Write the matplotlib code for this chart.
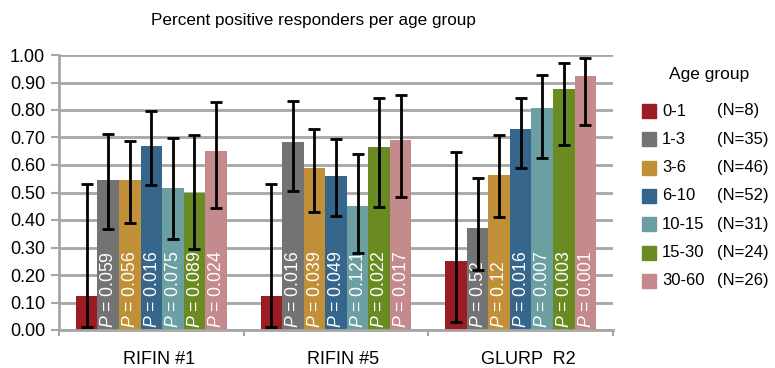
import numpy as np
import matplotlib.pyplot as plt
from matplotlib.patches import Rectangle

plt.rcParams['font.family'] = ['Liberation Sans', 'DejaVu Sans']
plt.rcParams['mathtext.fontset'] = 'custom'
plt.rcParams['mathtext.it'] = 'Liberation Sans:italic'
plt.rcParams['mathtext.rm'] = 'Liberation Sans'

# data
antigens = ["RIFIN #1", "RIFIN #5", "GLURP  R2"]
age_groups = ["0-1", "1-3", "3-6", "6-10", "10-15", "15-30", "30-60"]
group_n = [8, 35, 46, 52, 31, 24, 26]
colors = ["#9B1C22", "#737373", "#C18F37", "#36668C", "#6C9FA1", "#6A8A22", "#C48A8C"]

rifin1 = [0.125, 0.545, 0.545, 0.67, 0.515, 0.50, 0.65]
rifin1_lo = [0.01, 0.366, 0.39, 0.527, 0.332, 0.293, 0.442]
rifin1_hi = [0.53, 0.713, 0.688, 0.796, 0.697, 0.708, 0.83]
rifin1_p = [None, "0.059", "0.056", "0.016", "0.075", "0.089", "0.024"]

rifin5 = [0.125, 0.685, 0.588, 0.56, 0.451, 0.665, 0.69]
rifin5_lo = [0.01, 0.507, 0.43, 0.416, 0.279, 0.447, 0.485]
rifin5_hi = [0.53, 0.833, 0.73, 0.696, 0.64, 0.845, 0.855]
rifin5_p = [None, "0.016", "0.039", "0.049", "0.121", "0.022", "0.017"]

glurp = [0.251, 0.372, 0.562, 0.73, 0.807, 0.875, 0.924]
glurp_lo = [0.03, 0.22, 0.41, 0.59, 0.624, 0.673, 0.745]
glurp_hi = [0.648, 0.552, 0.708, 0.845, 0.928, 0.972, 0.99]
glurp_p = [None, "0.52", "0.12", "0.016", "0.007", "0.003", "0.001"]

values = [rifin1, rifin5, glurp]
lows = [rifin1_lo, rifin5_lo, glurp_lo]
highs = [rifin1_hi, rifin5_hi, glurp_hi]
pvals = [rifin1_p, rifin5_p, glurp_p]

W, H = 775, 368
fig = plt.figure(figsize=(W / 100, H / 100), dpi=100)
ax = fig.add_axes([59 / W, 1 - 330 / H, (613 - 59) / W, 275 / H])

grid_c = "#A6A6A6"
bw = 0.1167
n = len(age_groups)
for ci in range(len(antigens)):
    for gi in range(n):
        x = ci + 0.5 + (gi - (n - 1) / 2) * bw
        v = values[ci][gi]
        ax.bar(x, v, width=bw, color=colors[gi], zorder=2)
        # error bars sit on top of the P labels, as in the original
        ax.errorbar(x, v, yerr=[[v - lows[ci][gi]], [highs[ci][gi] - v]],
                    fmt="none", ecolor="black", elinewidth=2.0, capsize=4,
                    capthick=2.0, zorder=4)
        p = pvals[ci][gi]
        if p is not None:
            ax.text(x + 0.004, 0.008, r"$P$ = " + p, rotation=90, ha="center",
                    va="bottom", color="white", fontsize=12.7, zorder=3)

ax.set_xlim(0, 3)
ax.set_ylim(0, 1)
ax.set_yticks(np.arange(0, 1.01, 0.1))
ax.set_yticklabels([f"{t:.2f}" for t in np.arange(0, 1.01, 0.1)], fontsize=13)
ax.yaxis.grid(True, color=grid_c, lw=2, zorder=0)
ax.set_axisbelow(True)

ax.set_xticks([i + 0.54 for i in range(3)])
ax.set_xticklabels(antigens, fontsize=13)
ax.set_xticks([0, 1, 2, 3], minor=True)
ax.tick_params(axis="x", which="major", length=0, pad=15)
ax.tick_params(axis="x", which="minor", length=4, width=1.5, color=grid_c)
ax.tick_params(axis="y", length=6, width=1.5, color=grid_c, pad=4)

for s in ["top", "right"]:
    ax.spines[s].set_visible(False)
for s in ["left", "bottom"]:
    ax.spines[s].set_color(grid_c)
    ax.spines[s].set_linewidth(2)

fig.text(313 / W, 1 - 20 / H, "Percent positive responders per age group",
         ha="center", va="center", fontsize=12.3)

# legend drawn by hand to get the tab-aligned N column
fig.text(709 / W, 1 - 75 / H, "Age group", ha="center", va="center", fontsize=12.5)
for gi in range(n):
    yc = 111 + gi * 28.3
    fig.add_artist(Rectangle((642 / W, 1 - (yc + 7) / H), 14 / W, 14 / H,
                             transform=fig.transFigure, color=colors[gi]))
    fig.text(662 / W, 1 - yc / H, age_groups[gi], ha="left", va="center", fontsize=12)
    fig.text(717 / W, 1 - yc / H, f"(N={group_n[gi]})", ha="left", va="center", fontsize=12)

fig.savefig("out.png", dpi=100)
